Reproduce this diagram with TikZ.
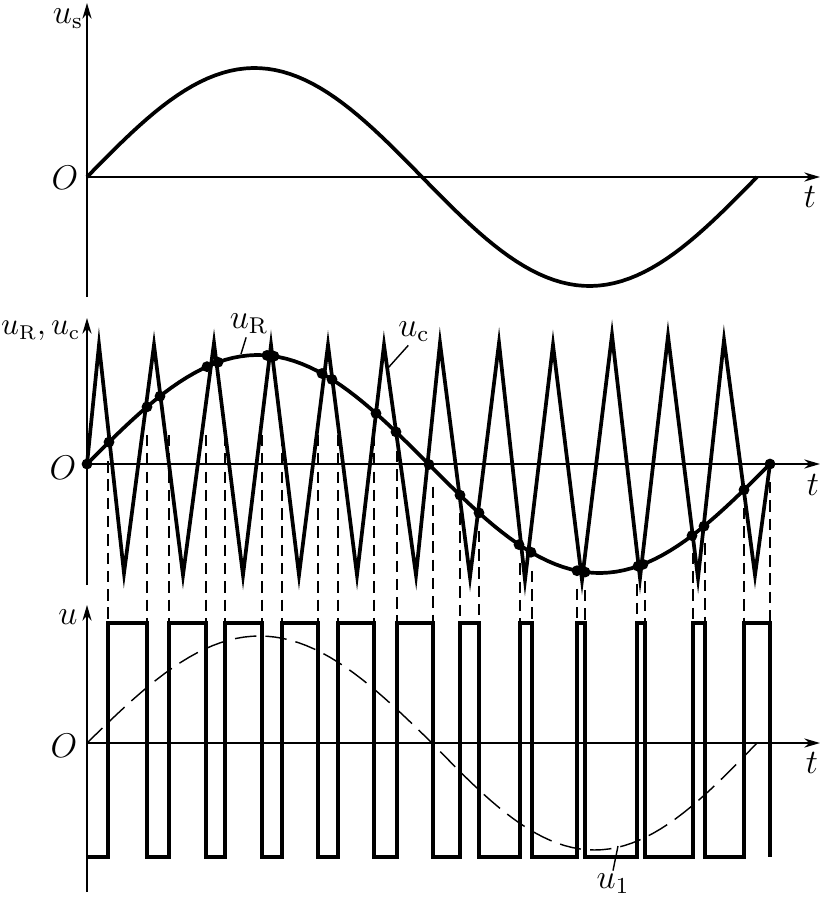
\documentclass[tikz,border=0pt]{standalone}
\usepackage{amsmath}
\usetikzlibrary{arrows.meta}

\tikzset{
    axis/.style={line width=0.7pt, ->, >={Stealth[length=5.5pt, width=3.2pt]}},
    wave/.style={line width=1.3pt},
    drop/.style={line width=0.45pt, dash pattern=on 4pt off 2.4pt},
    fund/.style={line width=0.5pt, dash pattern=on 7.5pt off 3.2pt},
    leader/.style={line width=0.5pt},
    lbl/.style={inner sep=1pt, font=\fontsize{11.5}{13}\selectfont},
}

\begin{document}
\begin{tikzpicture}[x=0.35pt, y=-0.35pt]
    \useasboundingbox (0,0) rectangle (822,899);

    % Axes
    \draw[axis] (87,297) -- (87,3);
    \draw[axis] (87,177) -- (820,177);
    \draw[axis] (87,585) -- (87,318);
    \draw[axis] (87,464) -- (820,464);
    \draw[axis] (87,892) -- (87,605);
    \draw[axis] (87,743) -- (820,743);

    % Axis labels
    \node[lbl] (us) at (68,19) {$u_{\mathrm{s}}$};
    \node[lbl] (o1) at (65,178) {$O$};
    \node[lbl] (t1) at (810,197) {$t$};
    \node[lbl, anchor=east, font=\fontsize{10.5}{12}\selectfont] (urc) at (84,331)
        {$u_{\mathrm{R}},u_{\mathrm{c}}$};
    \node[lbl] (o2) at (63,468) {$O$};
    \node[lbl] (t2) at (813,485) {$t$};
    \node[lbl] (u) at (68,617) {$u$};
    \node[lbl] (o3) at (64,746) {$O$};
    \node[lbl] (t3) at (812,763) {$t$};

    % Supply voltage
    \draw[wave] plot[domain=0:360, samples=90] ({87+1.86111*\x},{177-109*sin(\x)});

    % Reference and carrier
    \draw[wave] plot[domain=0:360, samples=90] ({87+1.89722*\x},{464-109*sin(\x)});
    \draw[wave] (87,464)
        \foreach \p/\q in {99/345, 124/573, 154/345, 183/575, 214/343, 243/575,
                           271/345, 299/575, 328/345, 357/575, 384/345, 416/575,
                           440/343, 470/577, 499/343, 525/580, 553/345, 582/580,
                           612/335, 640/578, 668/336, 698/578, 724/340, 755/575,
                           770/464} { -- (\p,\q) };

    % Crossing points
    \fill (87,464) circle[radius=1.9pt];
    \foreach \d in {109,147,160,207,218,267,274,322,332,376,396,429,
                    460,479,519,531,577,585,638,643,692,704,744,770}
        \fill (\d,{464-109*sin(0.527086*(\d-87))}) circle[radius=1.9pt];

    % Switching instants
    \foreach \e in {108,147,169,206,225,262,282,318,338,374,397,433,
                    460,479,520,532,577,585,637,645,693,705,744,770} {
        \pgfmathsetmacro\ys{max(464-109*sin(0.527086*(\e-87))+18,435)}
        \draw[drop] (\e,\ys) -- (\e,623);
    }

    % Output pulses
    \draw[wave] (87,857)
        \foreach \a/\b in {108/147, 169/206, 225/262, 282/318, 338/374, 397/433,
                           460/479, 520/532, 577/585, 637/645, 693/705, 744/770}
        { -- (\a,857) -- (\a,623) -- (\b,623) -- (\b,857) };

    % Fundamental
    \draw[fund] plot[domain=0:180, samples=45] ({87+1.91667*\x},{743-107*sin(\x)})
        -- plot[domain=180:360, samples=45] ({432+1.80556*(\x-180)},{743-107*sin(\x)});

    % Curve labels
    \node[lbl] (uR) at (249,324) {$u_{\mathrm{R}}$};
    \node[lbl] (uc) at (414,332) {$u_{\mathrm{c}}$};
    \node[lbl] (u1) at (613,884) {$u_1$};
    \coordinate (uRtip) at (241,354);
    \coordinate (uctip) at (388,368);
    \coordinate (u1tip) at (618,846);
    \draw[leader] ([xshift=-1pt]uR.south) -- (uRtip);
    \draw[leader] ([xshift=-2pt]uc.south) -- (uctip);
    \draw[leader] (u1.north) -- (u1tip);
\end{tikzpicture}
\end{document}
